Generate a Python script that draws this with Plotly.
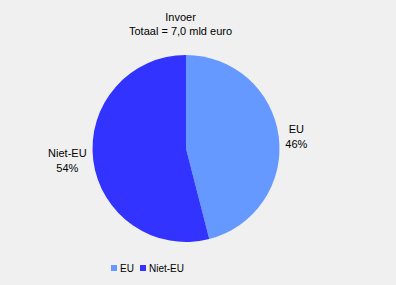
import plotly.graph_objects as go

labels = ["EU", "Niet-EU"]
values = [46, 54]
colors = ["#6699ff", "#3333ff"]
title_lines = ["Invoer", "Totaal = 7,0 mld euro"]

W, H = 396, 285
FONT = "Liberation Sans, Arial, sans-serif"

fig = go.Figure()
fig.add_trace(go.Pie(
    labels=labels, values=values, sort=False, direction="clockwise", rotation=0,
    marker=dict(colors=colors, line=dict(width=0)),
    texttemplate="%{label}<br>%{percent:.0%}",
    textposition="outside", outsidetextfont=dict(color="black", size=11, family=FONT),
    domain=dict(x=[20 / W, 352 / W], y=[43 / H, 230 / H]),
    automargin=False,
    showlegend=False, hoverinfo="label+percent",
))

annotations = [dict(text="<br>".join(title_lines), x=180.5 / W, y=1 - 8.5 / H, xref="paper", yref="paper",
                    xanchor="center", yanchor="top", showarrow=False,
                    font=dict(size=11, color="black", family=FONT))]
shapes = []
legend_x = [111, 140]
for lab, col, lx in zip(labels, colors, legend_x):
    shapes.append(dict(type="rect", xref="paper", yref="paper",
                       x0=lx / W, x1=(lx + 6) / W, y0=1 - 271 / H, y1=1 - 265 / H,
                       fillcolor=col, line=dict(width=0)))
    annotations.append(dict(text=lab, x=(lx + 7) / W, y=1 - 268.5 / H, xref="paper", yref="paper",
                            xanchor="left", yanchor="middle", showarrow=False,
                            font=dict(size=10, color="black", family=FONT)))

fig.update_layout(
    width=W, height=H, margin=dict(l=0, r=0, t=0, b=0, pad=0), autosize=False,
    showlegend=False,
    paper_bgcolor="#f0f0f0", plot_bgcolor="#f0f0f0",
    annotations=annotations, shapes=shapes,
)
fig.write_html("out.html")
